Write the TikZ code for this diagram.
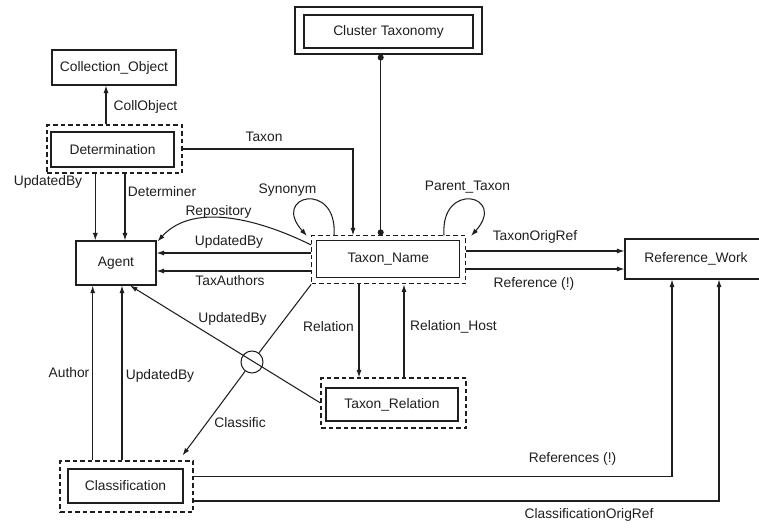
\documentclass[tikz,border=0pt]{standalone}
\usepackage{fontspec}
\setmainfont{Liberation Sans}
\usetikzlibrary{arrows.meta}
\definecolor{ink}{RGB}{30,30,30}
\begin{document}
\begin{tikzpicture}[x=1pt,y=-1pt,
  every node/.style={font=\fontsize{13.8}{16}\selectfont, text=ink, inner sep=0pt},
  entity/.style={draw=ink, line width=1.05pt, rectangle, minimum width=#1},
  wrap/.style={draw=ink, line width=1.05pt, rectangle, dash pattern=on 4.5pt off 3pt},
  link/.style={draw=ink, line width=1.05pt},
  arr/.style={link, -{Latex[length=7.5pt,width=5pt]}},
  dots/.style={link, {Circle[length=6pt]}-{Circle[length=6pt]}},
  lbl/.style={fill=none}]
\useasboundingbox (0,0) rectangle (759,527);

% entities
\node[entity=124, minimum height=35] (coll) at (114,67.5) {Collection\_Object};

\node[wrap, minimum width=135, minimum height=48] (detO) at (114.5,149) {};
\node[entity=123, minimum height=35] (det) at (112.5,149.5) {Determination};

\node[draw=ink, line width=1.05pt, minimum width=187, minimum height=47] (clusO) at (388.5,30.5) {};
\node[entity=169, minimum height=33] (clus) at (388.5,31.5) {Cluster Taxonomy};

\node[entity=80, minimum height=44] (agent) at (116,263) {Agent};

\node[wrap, minimum width=154, minimum height=48] (taxO) at (388.7,259.9) {};
\node[entity=143, minimum height=37] (tax) at (388.3,259.4) {Taxon\_Name};

\node[entity=142, minimum height=40] (ref) at (696,259) {Reference\_Work};

\node[wrap, minimum width=145, minimum height=50] (relO) at (393.5,403) {};
\node[entity=132, minimum height=33] (rel) at (392,404.5) {Taxon\_Relation};

\node[wrap, minimum width=133, minimum height=51] (clsO) at (126.5,486.5) {};
\node[entity=115, minimum height=34] (cls) at (125.5,486) {Classification};

\node[draw=ink, line width=1.05pt, circle, minimum size=22] (junc) at (252,362) {};

% columns and rows used by the connectors
\coordinate (c93) at (92.7,0);
\coordinate (c95) at (95.3,0);
\coordinate (c106) at (106,0);
\coordinate (c122) at (122,0);
\coordinate (c125) at (125,0);
\coordinate (c130) at (130,0);
\coordinate (c334) at (334,0);
\coordinate (c353) at (353,0);
\coordinate (c359) at (359,0);
\coordinate (c380) at (380.7,0);
\coordinate (c404) at (404,0);
\coordinate (c444) at (444,0);
\coordinate (c672) at (672,0);
\coordinate (c719) at (719,0);
\coordinate (r245) at (0,245);
\coordinate (r251) at (0,251);
\coordinate (r253) at (0,253);
\coordinate (r269) at (0,269);
\coordinate (r271) at (0,271);
\coordinate (r477) at (0,476.7);
\coordinate (r501) at (0,501);

% connectors
\draw[arr] (c106 |- detO.north) -- (c106 |- coll.south);
\draw[arr] (c95 |- detO.south) -- (c95 |- agent.north);
\draw[arr] (c125 |- detO.south) -- (c125 |- agent.north);
\draw[arr] (detO.east) -| (c353 |- taxO.north);
\draw[dots] (c380 |- clusO.south) -- (c380 |- taxO.north);

\draw[arr] (c334 |- taxO.north) .. controls (338,180) and (270,195) .. (307,236);
\draw[arr] (c444 |- taxO.north) .. controls (440,180) and (508,195) .. (471,236);

\draw[arr] (taxO.west |- r245) .. controls (265,222) and (195,200) .. ([xshift=1pt,yshift=-1pt]agent.north east);
\draw[arr] (taxO.west |- r253) -- (agent.east |- r253);
\draw[arr] (taxO.west |- r271) -- (agent.east |- r271);

\draw[arr] (taxO.east |- r251) -- (ref.west |- r251);
\draw[arr] (taxO.east |- r269) -- (ref.west |- r269);

\draw[arr] (c359 |- taxO.south) -- (c359 |- relO.north);
\draw[arr] (c404 |- relO.north) -- (c404 |- taxO.south);

\draw[arr] (relO.west) -- (c130 |- agent.south);
\draw[link] (taxO.south west) -- (junc);
\draw[arr] (junc) -- ([xshift=-11pt,yshift=5pt]clsO.north east);

\draw[arr] (c93 |- clsO.north) -- (c93 |- agent.south);
\draw[arr] (c122 |- clsO.north) -- (c122 |- agent.south);

\draw[arr] (clsO.east |- r477) -| (c672 |- ref.south);
\draw[arr] (clsO.east |- r501) -| (c719 |- ref.south);

% connector labels
\node[lbl] (lCollObject) at (145.5,107) {CollObject};
\node[lbl] (lTaxon) at (264,137) {Taxon};
\node[lbl] (lUpd1) at (48,182) {UpdatedBy};
\node[lbl] (lDeterminer) at (162,192) {Determiner};
\node[lbl] (lSynonym) at (287.5,190) {Synonym};
\node[lbl] (lParent) at (467.5,187) {Parent\_Taxon};
\node[lbl] (lRepository) at (218.5,212) {Repository};
\node[lbl] (lUpd2) at (229,242) {UpdatedBy};
\node[lbl] (lTaxAuthors) at (230,281) {TaxAuthors};
\node[lbl] (lTaxonOrigRef) at (535,237) {TaxonOrigRef};
\node[lbl] (lReference) at (534,284) {Reference (!)};
\node[lbl] (lRelation) at (328.5,327) {Relation};
\node[lbl] (lRelHost) at (453.5,327) {Relation\_Host};
\node[lbl] (lUpd3) at (232.5,319) {UpdatedBy};
\node[lbl] (lAuthor) at (69,373) {Author};
\node[lbl] (lUpd4) at (160,376) {UpdatedBy};
\node[lbl] (lClassific) at (240,423) {Classific};
\node[lbl] (lReferences) at (572.5,459) {References (!)};
\node[lbl] (lClsOrigRef) at (589,515) {ClassificationOrigRef};
\end{tikzpicture}
\end{document}
